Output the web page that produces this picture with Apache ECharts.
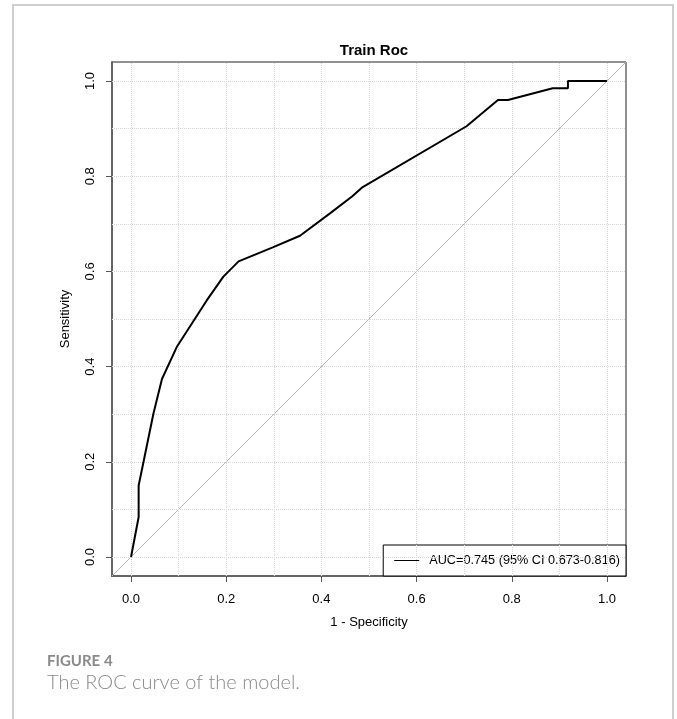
<!DOCTYPE html>
<html>
<head>
<meta charset="utf-8">
<script src="https://cdn.jsdelivr.net/npm/echarts@6/dist/echarts.min.js"></script>
<style>
    html, body { margin: 0; padding: 0; background: #fff; }
    #rocChart { width: 677px; height: 719px; }
</style>
</head>
<body>
<div id="rocChart"></div>
<script>
// ROC curve (1 - specificity, sensitivity)
var fpr = [0, 0.016, 0.016, 0.047, 0.065, 0.096, 0.159, 0.194, 0.226, 0.299, 0.355,
    0.418, 0.465, 0.485, 0.705, 0.771, 0.792, 0.886, 0.918, 0.918, 1.0];
var tpr = [0, 0.084, 0.150, 0.301, 0.374, 0.441, 0.539, 0.589, 0.621, 0.651, 0.675,
    0.722, 0.758, 0.776, 0.905, 0.960, 0.960, 0.985, 0.985, 1.0, 1.0];

// reference diagonal, corner to corner of the plot region
var diagX = [-0.04, 1.04];
var diagY = [-0.04, 1.04];

var tickValues = [0, 0.2, 0.4, 0.6, 0.8, 1.0];
var gridValues = [0, 0.1, 0.2, 0.3, 0.4, 0.5, 0.6, 0.7, 0.8, 0.9, 1.0];

var legendName = 'AUC=0.745 (95% CI 0.673-0.816)';
var fontFamily = '"Liberation Sans", Arial, Helvetica, sans-serif';

function zip(a, b) {
    return a.map(function (v, i) { return [v, b[i]]; });
}

function valueAxis(name, rotate, margin) {
    return {
        type: 'value',
        min: -0.04,
        max: 1.04,
        name: name,
        nameLocation: 'middle',
        nameGap: 40,
        nameTextStyle: { color: '#000', fontSize: 13, fontFamily: fontFamily },
        axisLine: { show: true, onZero: false, lineStyle: { color: '#666', width: 2 } },
        axisTick: {
            show: true,
            customValues: tickValues,
            length: 6,
            lineStyle: { color: '#555', width: 1 }
        },
        axisLabel: {
            customValues: tickValues,
            rotate: rotate,
            margin: margin,
            color: '#000',
            fontSize: 13,
            fontFamily: fontFamily,
            formatter: function (v) { return v.toFixed(1); }
        },
        splitLine: { show: false }
    };
}

var gridLineStyle = { color: '#d6d6d6', type: 'dotted', width: 1 };

var chart = echarts.init(document.getElementById('rocChart'));
chart.setOption({
    animation: false,
    title: [
        {
            text: 'Train Roc',
            left: 369,
            top: 38,
            textAlign: 'center',
            textStyle: { fontSize: 15, fontWeight: 'bold', color: '#000', fontFamily: fontFamily }
        },
        {
            text: 'FIGURE 4',
            left: 42,
            top: 649,
            textStyle: { fontSize: 15, fontWeight: 'bold', color: '#8a8a8a', fontFamily: 'Lato, "Open Sans", sans-serif' }
        },
        {
            text: 'The ROC curve of the model.',
            left: 42,
            top: 668,
            textStyle: { fontSize: 20, fontWeight: 300, color: '#8a8a8a', fontFamily: 'Lato, "Open Sans", sans-serif' }
        }
    ],
    graphic: [
        {
            type: 'rect',
            shape: { x: 13, y: 5, width: 660, height: 760 },
            style: { fill: 'none', stroke: '#cfcfcf', lineWidth: 2 },
            silent: true
        }
    ],
    grid: {
        left: 112,
        top: 62,
        right: 51,
        bottom: 143,
        show: true,
        borderColor: '#222',
        borderWidth: 1
    },
    legend: {
        data: [{ name: legendName, icon: 'rect' }],
        right: 51,
        bottom: 143,
        orient: 'vertical',
        backgroundColor: '#fff',
        borderColor: '#000',
        borderWidth: 1,
        borderRadius: 0,
        padding: [9, 6, 9, 11],
        itemWidth: 25,
        itemHeight: 1,
        itemStyle: { color: '#000', borderWidth: 0 },
        textStyle: { color: '#000', fontSize: 12.7, fontFamily: fontFamily, padding: [0, 0, 0, 5] }
    },
    xAxis: valueAxis('1 - Specificity', 0, 17),
    yAxis: valueAxis('Sensitivity', 90, 15),
    series: [
        {
            name: 'grid',
            type: 'line',
            data: [],
            silent: true,
            markLine: {
                silent: true,
                symbol: ['none', 'none'],
                label: { show: false },
                lineStyle: gridLineStyle,
                data: gridValues.map(function (v) { return { xAxis: v }; })
                    .concat(gridValues.map(function (v) { return { yAxis: v }; }))
            }
        },
        {
            name: 'diagonal',
            type: 'line',
            data: zip(diagX, diagY),
            symbol: 'none',
            silent: true,
            lineStyle: { color: '#b5b5b5', width: 1 }
        },
        {
            name: legendName,
            type: 'line',
            data: zip(fpr, tpr),
            symbol: 'none',
            itemStyle: { color: '#000' },
            lineStyle: { color: '#000', width: 2 },
            z: 5
        }
    ]
});
</script>
</body>
</html>
